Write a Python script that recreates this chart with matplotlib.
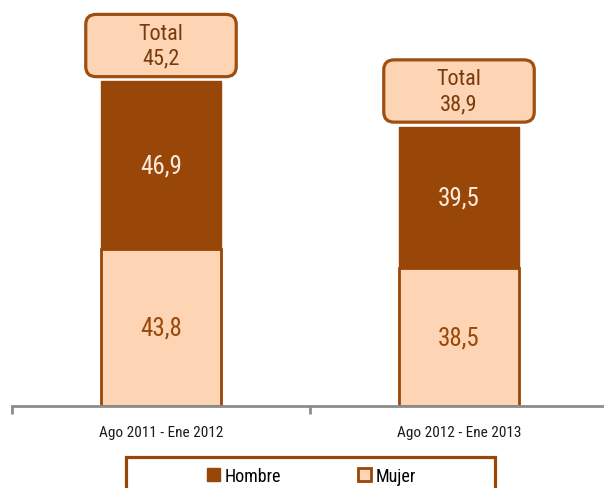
import matplotlib
matplotlib.use("Agg")
import matplotlib.pyplot as plt
from matplotlib.patches import FancyBboxPatch, Patch, Rectangle

plt.rcParams['font.family'] = ['Roboto Condensed', 'DejaVu Sans']

# data
periodos = ["Ago 2011 - Ene 2012", "Ago 2012 - Ene 2013"]
mujer = [43.8, 38.5]
hombre = [46.9, 39.5]
total = ["45,2", "38,9"]

c_dark = "#994708"
c_light = "#FDD5B4"
c_text = "#7A3A0C"

fig = plt.figure(figsize=(6.04, 4.89), dpi=100)
ax = fig.add_axes([12/604, 82/489, 596/604, 407/489])
ax.set_xlim(-0.5, 1.5)
ax.set_ylim(0, 113.7)

x = list(range(len(periodos)))
w = 0.4
ax.bar(x, mujer, width=w, color=c_light, edgecolor=c_dark, linewidth=2, zorder=2)
ax.bar(x, hombre, width=w, bottom=mujer, color=c_dark, edgecolor=c_dark, linewidth=1, zorder=2)

for i in x:
    ax.text(i, mujer[i] / 2, f"{mujer[i]:.1f}".replace(".", ","), ha="center", va="center",
            fontsize=18, color="#99480A")
    ax.text(i, mujer[i] + hombre[i] / 2, f"{hombre[i]:.1f}".replace(".", ","), ha="center",
            va="center", fontsize=18, color="#FDEBDD")
    # caja del total
    top = mujer[i] + hombre[i]
    bw, bh = 0.505, 17.4
    y0 = top + 1.3
    box = FancyBboxPatch((i - bw / 2, y0), bw, bh,
                         boxstyle="round,pad=0,rounding_size=0.035",
                         mutation_aspect=80, facecolor=c_light, edgecolor="#9E4E10",
                         linewidth=2.3, zorder=3, clip_on=False)
    ax.add_patch(box)
    ax.text(i, y0 + bh / 2, "Total\n" + total[i], ha="center", va="center",
            fontsize=16, color=c_text, linespacing=1.25, zorder=4)

for s in ["top", "right", "left"]:
    ax.spines[s].set_visible(False)
ax.spines["bottom"].set_color("#8C8C8C")
ax.spines["bottom"].set_linewidth(2)
ax.set_yticks([])
ax.set_xticks(x)
ax.set_xticklabels(periodos, fontsize=11, color="#1A1A1A")
ax.set_xticks([-0.5, 0.5, 1.5], minor=True)
ax.tick_params(axis="x", which="major", length=0, pad=14)
ax.tick_params(axis="x", which="minor", length=6, width=2, color="#8C8C8C")

# marco de la leyenda
fig.patches.append(Rectangle((126/604, -0.05), 369/604, 0.05 + 1 - 458/489,
                             transform=fig.transFigure, facecolor="white",
                             edgecolor=c_dark, linewidth=2.3, zorder=1))
handles = [Patch(facecolor=c_dark, edgecolor=c_dark, label="Hombre"),
           Patch(facecolor=c_light, edgecolor=c_dark, linewidth=2, label="Mujer")]
fig.legend(handles=handles, loc="center left", bbox_to_anchor=(207/604, 1 - 477/489),
           ncol=2, frameon=False, fontsize=13, handlelength=0.7, handleheight=0.7,
           handletextpad=0.25, columnspacing=4.3, borderpad=0, borderaxespad=0)

fig.savefig("out.png", dpi=100)
